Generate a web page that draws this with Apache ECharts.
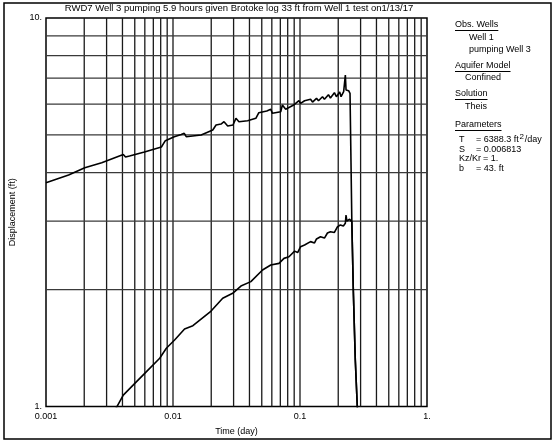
<!DOCTYPE html>
<html>
<head>
<meta charset="utf-8">
<script src="https://cdn.jsdelivr.net/npm/echarts@6/dist/echarts.min.js"></script>
<style>
html,body{margin:0;padding:0;background:#fff;}
#chart{width:555px;height:442px;}
</style>
</head>
<body>
<div id="chart"></div>
<script>
// ---- data ----
const titleText = 'RWD7 Well 3 pumping 5.9 hours given Brotoke log 33 ft from Well 1 test on1/13/17';
const xTickLabels = ['0.001', '0.01', '0.1', '1.'];
const yTickLabels = ['1.', '10.'];
const xGridValues = [0.002,0.003,0.004,0.005,0.006,0.007,0.008,0.009,0.01,
                     0.02,0.03,0.04,0.05,0.06,0.07,0.08,0.09,0.1,
                     0.2,0.3,0.4,0.5,0.6,0.7,0.8,0.9];
const yGridValues = [2,3,4,5,6,7,8,9];

const upperTime = [0.001,0.001506,0.002020,0.002745,0.004060,0.004231,0.004546,0.005958,0.008102,0.008395,0.008704,
  0.010237,0.011614,0.012264,0.012712,0.016654,0.020564,0.021827,0.023883,0.025218,0.026955,0.029660,0.031306,
  0.033049,0.038671,0.044912,0.047410,0.054765,0.058852,0.060681,0.070473,0.072664,0.077127,0.089102,
  0.098039,0.10109,0.10864,0.11264,0.12106,0.12551,0.13490,0.13986,0.15031,0.15580,0.16745,0.17362,
  0.18659,0.19345,0.20529,0.21056,0.22069,0.22754,0.23044,0.24146,0.24767,0.25130,0.25586,0.26285,
  0.27254,0.28255,0.28510];
const upperDisp = [3.768,3.944,4.118,4.242,4.454,4.388,4.414,4.520,4.656,4.711,4.833,
  4.949,5.013,5.049,4.949,4.998,5.149,5.304,5.335,5.409,5.272,5.304,5.518,
  5.409,5.441,5.518,5.704,5.762,5.821,5.684,5.738,5.971,5.821,5.971,
  6.125,6.031,6.125,6.053,6.176,6.076,6.213,6.125,6.272,6.176,6.347,6.224,
  6.422,6.272,6.449,6.272,6.461,7.133,6.526,6.499,6.400,4.574,3.020,1.995,
  1.317,1.0,0.901];

const lowerTime = [0.003533,0.004060,0.005005,0.005991,0.007857,0.008862,0.010292,0.012329,0.014343,0.019948,
  0.024624,0.029504,0.034253,0.041026,0.050677,0.058852,0.068348,0.074799,0.081846,0.090710,0.095762,
  0.10109,0.10864,0.11264,0.12106,0.13009,0.13490,0.14502,0.15580,0.16447,0.17362,0.18659,0.19700,
  0.20786,0.21948,0.22754,0.23044,0.23381,0.24590,0.25586,0.26285,0.27254,0.28255,0.28510];
const lowerDisp = [0.985,1.070,1.147,1.217,1.331,1.412,1.483,1.583,1.614,1.761,
  1.899,1.956,2.042,2.096,2.245,2.313,2.336,2.406,2.429,2.512,2.490,
  2.578,2.604,2.581,2.657,2.636,2.699,2.735,2.714,2.796,2.818,2.805,2.898,
  2.933,2.915,2.962,3.111,3.002,3.033,2.984,1.995,1.317,1.0,0.901];

// ---- layout ----
const FONT = 'Liberation Sans, Arial, sans-serif';
const GL = 44, GT = 18, GW = 383, GH = 388.5;
const X_MIN = 0.001, X_MAX = 1, Y_MIN = 1, Y_MAX = 10;

const mctx = document.createElement('canvas').getContext('2d');
function tw(t, size) { mctx.font = size + 'px "Liberation Sans", Arial, sans-serif'; return mctx.measureText(t).width; }

function txt(t, x, y, size, extra) {
  return Object.assign({ type: 'text', silent: true, style: { text: t, x: x, y: y, fontSize: size || 9, fontFamily: FONT, fill: '#000', verticalAlign: 'middle' } }, extra || {});
}
function heading(t, x, y) {
  const w = tw(t, 9);
  return [txt(t, x, y, 9), { type: 'line', silent: true, shape: { x1: x, y1: y + 5.5, x2: x + w, y2: y + 5.5 }, style: { stroke: '#000', lineWidth: 1 } }];
}

const PX = 455, PI = 469, PI2 = 465, PV = 459, PE = 476;
const tStr = '= 6388.3 ft';
const supX = PE + tw(tStr, 9) + 0.8;
const graphics = [
  { type: 'rect', silent: true, shape: { x: 4, y: 3, width: 547, height: 436 }, style: { fill: 'none', stroke: '#000', lineWidth: 1.5 } },
  txt(titleText, 239, 8, 9.5),
  ...heading('Obs. Wells', PX, 25),
  txt('Well 1', PI, 38, 9),
  txt('pumping Well 3', PI, 50, 9),
  ...heading('Aquifer Model', PX, 66),
  txt('Confined', PI2, 78, 9),
  ...heading('Solution', PX, 94),
  txt('Theis', PI2, 107, 9),
  ...heading('Parameters', PX, 125),
  txt('T', PV, 140, 9),
  txt(tStr, PE, 140, 9),
  txt('2', supX, 136.5, 8),
  txt('/day', supX + tw('2', 8) + 0.8, 140, 9),
  txt('S', PV, 149.5, 9),
  txt('= 0.006813', PE, 149.5, 9),
  txt('Kz/Kr', PV, 159, 9),
  txt('= 1.', PV + tw('Kz/Kr', 9) + 2, 159, 9),
  txt('b', PV, 168.5, 9),
  txt('= 43. ft', PE, 168.5, 9)
];
graphics[1].style.align = 'center';

function zip(a, b) { return a.map((v, i) => [v, b[i]]); }

const gridSeries = [
  ...xGridValues.map(v => ({ type: 'line', data: [[v, Y_MIN], [v, Y_MAX]], symbol: 'none', silent: true, z: 1,
      lineStyle: { color: '#1a1a1a', width: 1.3 } })),
  ...yGridValues.map(v => ({ type: 'line', data: [[X_MIN, v], [X_MAX, v]], symbol: 'none', silent: true, z: 1,
      lineStyle: { color: '#3a3a3a', width: 1.3 } }))
];

const chart = echarts.init(document.getElementById('chart'), null, { renderer: 'canvas' });
chart.setOption({
  animation: false,
  backgroundColor: '#fff',
  grid: { left: GL, top: GT, width: GW, height: GH, show: true, borderColor: '#000', borderWidth: 1.5, backgroundColor: 'transparent' },
  xAxis: {
    type: 'log', logBase: 10, min: X_MIN, max: X_MAX,
    axisLine: { show: false }, axisTick: { show: false }, splitLine: { show: false },
    axisLabel: { fontSize: 9, fontFamily: FONT, color: '#000', margin: 6, showMinLabel: true, showMaxLabel: true,
      formatter: v => xTickLabels[Math.round(Math.log10(v)) + 3] },
    name: 'Time (day)', nameLocation: 'middle', nameGap: 21,
    nameTextStyle: { fontSize: 9, fontFamily: FONT, color: '#000' }
  },
  yAxis: {
    type: 'log', logBase: 10, min: Y_MIN, max: Y_MAX,
    axisLine: { show: false }, axisTick: { show: false }, splitLine: { show: false },
    axisLabel: { fontSize: 9, fontFamily: FONT, color: '#000', margin: 4, showMinLabel: true, showMaxLabel: true,
      formatter: v => yTickLabels[Math.round(Math.log10(v))] },
    name: 'Displacement (ft)', nameLocation: 'middle', nameGap: 29,
    nameTextStyle: { fontSize: 9, fontFamily: FONT, color: '#000' }
  },
  graphic: graphics,
  series: [
    ...gridSeries,
    { type: 'line', data: zip(upperTime, upperDisp), showSymbol: false, symbol: 'none', clip: true, z: 3,
      lineStyle: { color: '#000', width: 1.6 } },
    { type: 'line', data: zip(lowerTime, lowerDisp), showSymbol: false, symbol: 'none', clip: true, z: 3,
      lineStyle: { color: '#000', width: 1.6 } }
  ]
});
</script>
</body>
</html>
